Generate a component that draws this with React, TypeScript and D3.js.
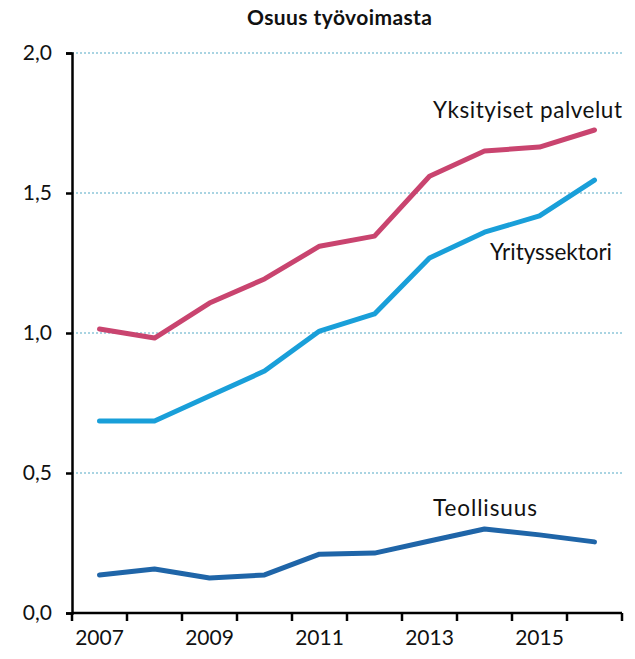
import React, { useRef, useEffect } from "react";
import * as d3 from "d3";

const years = ["2007", "2008", "2009", "2010", "2011", "2012", "2013", "2014", "2015", "2016"];
const yksityiset = [1.014, 0.982, 1.107, 1.193, 1.31, 1.346, 1.56, 1.65, 1.664, 1.725];
const yrityssektori = [0.686, 0.686, 0.775, 0.864, 1.007, 1.068, 1.268, 1.36, 1.418, 1.546];
const teollisuus = [0.136, 0.157, 0.125, 0.136, 0.21, 0.214, 0.257, 0.3, 0.279, 0.254];
const yTicks = [0, 0.5, 1.0, 1.5, 2.0];
const yearLabels = ["2007", "2009", "2011", "2013", "2015"];

const series = [
  { name: "Yksityiset palvelut", values: yksityiset, color: "#c9446f", lx: 433, ly: 118, len: 189 },
  { name: "Yrityssektori", values: yrityssektori, color: "#199fd9", lx: 490, ly: 260, len: 122 },
  { name: "Teollisuus", values: teollisuus, color: "#1f65a8", lx: 433, ly: 516, len: 104 },
];

const App: React.FC = () => {
  const ref = useRef<SVGSVGElement>(null);

  useEffect(() => {
    if (!ref.current) return;
    const svg = d3.select(ref.current);
    svg.selectAll("*").remove();

    const margin = { top: 53, right: 13, bottom: 46, left: 72 };
    const width = 635 - margin.left - margin.right;
    const height = 659 - margin.top - margin.bottom;
    const font = "Lato, 'Open Sans', sans-serif";

    const x = d3.scaleBand<string>().domain(years).range([0, width]);
    const y = d3.scaleLinear().domain([0, 2]).range([height, 0]);

    svg
      .append("text")
      .attr("x", 247)
      .attr("y", 25)
      .attr("font-family", font)
      .attr("font-weight", "bold")
      .attr("font-size", 21)
      .attr("textLength", 185)
      .attr("fill", "#111")
      .text("Osuus työvoimasta");

    const g = svg.append("g").attr("transform", `translate(${margin.left},${margin.top})`);

    // grid
    g.selectAll(".grid")
      .data(yTicks.filter((t) => t > 0))
      .enter()
      .append("line")
      .attr("x1", 0)
      .attr("x2", width)
      .attr("y1", (d) => y(d))
      .attr("y2", (d) => y(d))
      .attr("stroke", "#a9d4e2")
      .attr("stroke-width", 2)
      .attr("stroke-dasharray", "2,2");

    // y axis
    const yAxis = g
      .append("g")
      .call(
        d3
          .axisLeft(y)
          .tickValues(yTicks)
          .tickSize(6)
          .tickPadding(14)
          .tickFormat((d) => d3.format(".1f")(d as number).replace(".", ","))
      );
    yAxis.select(".domain").attr("stroke", "#000").attr("stroke-width", 2.5);
    yAxis.selectAll(".tick line").attr("stroke", "#000").attr("stroke-width", 2.5);
    yAxis.selectAll("text").attr("font-family", font).attr("font-size", 21).attr("fill", "#111");

    // x axis
    const xAxis = g.append("g").attr("transform", `translate(0,${height})`);
    xAxis
      .append("line")
      .attr("x1", 0)
      .attr("x2", width)
      .attr("stroke", "#000")
      .attr("stroke-width", 2.5);
    const edges = years.map((yr) => x(yr) as number).concat([width]);
    xAxis
      .selectAll(".xt")
      .data(edges)
      .enter()
      .append("line")
      .attr("x1", (d) => d)
      .attr("x2", (d) => d)
      .attr("y1", 0)
      .attr("y2", 8)
      .attr("stroke", "#000")
      .attr("stroke-width", 2.5);
    xAxis
      .selectAll(".xl")
      .data(yearLabels)
      .enter()
      .append("text")
      .attr("x", (d) => (x(d) as number) + x.bandwidth() / 2)
      .attr("y", 32)
      .attr("text-anchor", "middle")
      .attr("font-family", font)
      .attr("font-size", 21)
      .attr("fill", "#111")
      .text((d) => d);

    const line = d3
      .line<number>()
      .x((_, i) => (x(years[i]) as number) + x.bandwidth() / 2)
      .y((d) => y(d));

    series.forEach((s) => {
      g.append("path")
        .datum(s.values)
        .attr("fill", "none")
        .attr("stroke", s.color)
        .attr("stroke-width", 5)
        .attr("stroke-linecap", "round")
        .attr("stroke-linejoin", "round")
        .attr("d", line);
      svg
        .append("text")
        .attr("x", s.lx)
        .attr("y", s.ly)
        .attr("font-family", font)
        .attr("font-size", 22.5)
        .attr("textLength", s.len)
        .attr("fill", "#111")
        .text(s.name);
    });
  }, []);

  return <svg ref={ref} width={635} height={659} style={{ position: "absolute", left: 0, top: 0 }}></svg>;
};

export default App;
